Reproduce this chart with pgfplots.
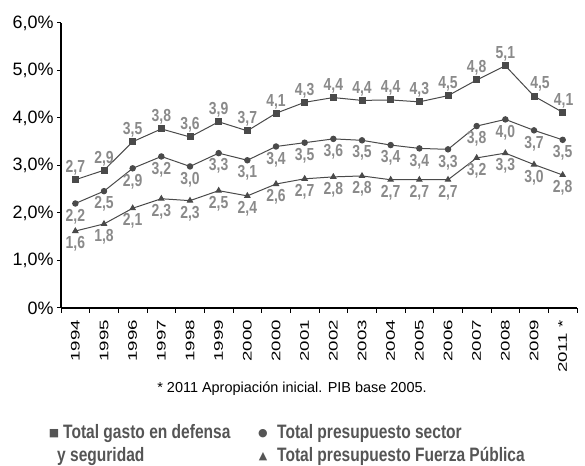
\documentclass[border=0pt]{standalone}
\usepackage{fontspec}
\setmainfont{Liberation Sans}
\newfontfamily\condfont[FakeStretch=0.8]{Liberation Sans}
\newfontfamily\symfont{DejaVu Sans}
\usepackage{graphicx}
\usepackage{pgfplots}
\pgfplotsset{compat=1.18}
\definecolor{linegray}{HTML}{4A4A4A}
\definecolor{labgray}{HTML}{8A8A8A}
\definecolor{leggray}{HTML}{555555}
\newcommand{\yr}[1]{\scalebox{1.5}[1]{#1}}

\begin{document}
\begin{tikzpicture}[x=1bp,y=1bp]
\path[use as bounding box] (0,0) rectangle (585,466);
\begin{axis}[
  at={(61bp,158bp)}, anchor=south west,
  scale only axis, width=516bp, height=285bp,
  xmin=-0.5, xmax=17.5, ymin=0, ymax=6,
  axis lines=left,
  axis line style={-, line width=1.4bp, black},
  tick align=outside,
  major tick length=4bp, minor tick length=5bp,
  tick style={black, line width=1bp},
  xtick={0,...,17},
  major x tick style={draw=none},
  minor xtick={-0.5,0.5,...,17.5},
  xticklabels={\yr{1994},\yr{1995},\yr{1996},\yr{1997},\yr{1998},\yr{1999},\yr{2000},\yr{2000},\yr{2001},\yr{2002},\yr{2003},\yr{2004},\yr{2005},\yr{2006},\yr{2007},\yr{2008},\yr{2009},\yr{2011 *}},
  xticklabel style={rotate=90, anchor=east, inner xsep=6bp, xshift=-2bp, font=\fontsize{12.5}{12.5}\selectfont},
  ytick={0,1,2,3,4,5,6},
  yticklabels={0\%,{1,0\%},{2,0\%},{3,0\%},{4,0\%},{5,0\%},{6,0\%}},
  yticklabel style={font=\fontsize{18}{18}\selectfont},
  clip=false,
  nodes near coords={\pgfmathprintnumber[fixed,fixed zerofill,precision=1,use comma,assume math mode=true]{\pgfplotspointmeta}},
  every node near coord/.append style={text=labgray, inner sep=0pt, font=\condfont\bfseries\fontsize{17.5}{17.5}\selectfont},
]
% Total gasto en defensa y seguridad
\addplot[color=linegray, line width=1bp, mark=square*, mark size=3bp,
  nodes near coords style={anchor=south, yshift=4bp},
  coordinate style/.condition={x==16}{xshift=6bp},
  coordinate style/.condition={x==17}{anchor=south west, xshift=1bp}]
  coordinates {(0,2.7) (1,2.9) (2,3.5) (3,3.77) (4,3.6) (5,3.92) (6,3.73) (7,4.1) (8,4.33) (9,4.43) (10,4.37) (11,4.38) (12,4.34) (13,4.47) (14,4.8) (15,5.1) (16,4.46) (17,4.12)};
% Total presupuesto sector
\addplot[color=linegray, line width=1bp, mark=*, mark size=2.7bp,
  nodes near coords style={anchor=north, yshift=-5bp}]
  coordinates {(0,2.2) (1,2.46) (2,2.94) (3,3.19) (4,2.98) (5,3.26) (6,3.11) (7,3.4) (8,3.48) (9,3.56) (10,3.53) (11,3.43) (12,3.36) (13,3.34) (14,3.83) (15,3.97) (16,3.74) (17,3.54)};
% Total presupuesto Fuerza Publica
\addplot[color=linegray, line width=1bp, mark=triangle*, mark size=3bp,
  nodes near coords style={anchor=north, yshift=-5bp}]
  coordinates {(0,1.62) (1,1.77) (2,2.1) (3,2.3) (4,2.26) (5,2.47) (6,2.36) (7,2.61) (8,2.72) (9,2.76) (10,2.78) (11,2.7) (12,2.7) (13,2.7) (14,3.16) (15,3.26) (16,3.02) (17,2.8)};
\end{axis}

\node[anchor=base, font=\fontsize{14.5}{14.5}\selectfont] at (292,73) {* 2011 Apropiación inicial. PIB base 2005.};

\begin{scope}[every node/.style={text=leggray}]
\node[font=\symfont\fontsize{11}{11}\selectfont] at (54,32) {■};
\node[font=\symfont\fontsize{11}{11}\selectfont] at (263,32) {●};
\node[font=\symfont\fontsize{11}{11}\selectfont] at (263,9) {▲};
\node[anchor=base west, inner sep=0pt, font=\condfont\bfseries\fontsize{19.5}{19.5}\selectfont] at (63,27) {Total gasto en defensa};
\node[anchor=base west, inner sep=0pt, font=\condfont\bfseries\fontsize{19.5}{19.5}\selectfont] at (57,4) {y seguridad};
\node[anchor=base west, inner sep=0pt, font=\condfont\bfseries\fontsize{19.5}{19.5}\selectfont] at (277,27) {Total presupuesto sector};
\node[anchor=base west, inner sep=0pt, font=\condfont\bfseries\fontsize{19.5}{19.5}\selectfont] at (277,4) {Total presupuesto Fuerza Pública};
\end{scope}
\end{tikzpicture}
\end{document}
